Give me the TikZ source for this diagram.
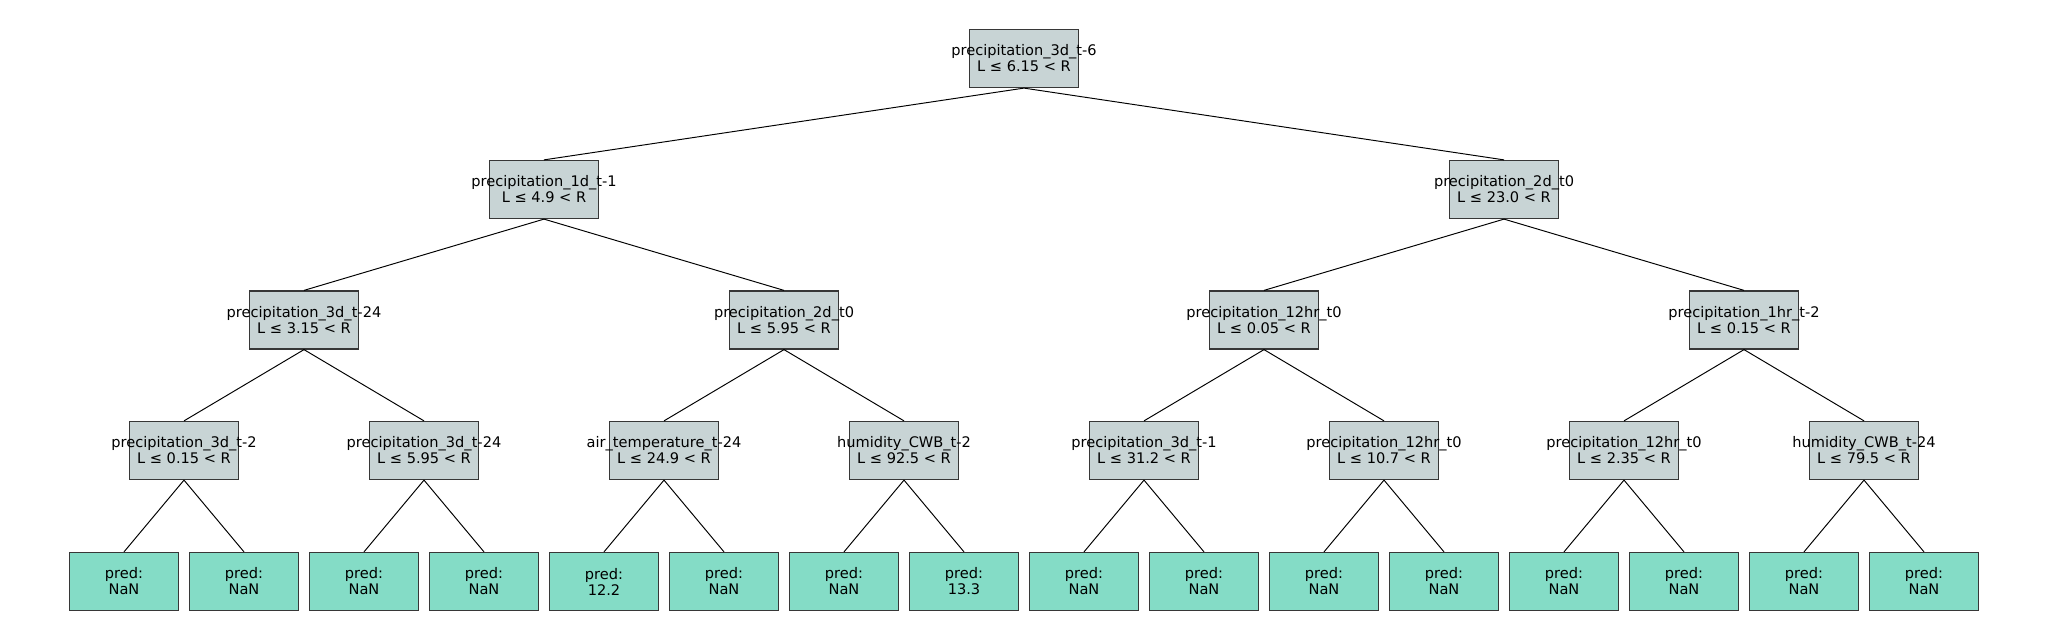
\documentclass[tikz,border=0pt]{standalone}
\usepackage{fontspec}
\setmainfont{DejaVu Sans}
\definecolor{splitgray}{RGB}{200,212,213}
\definecolor{leafgreen}{RGB}{132,220,198}
\definecolor{boxline}{RGB}{55,55,55}
\newcommand{\splittext}[2]{\makebox[0pt]{#1}\\\makebox[0pt]{#2}}
\begin{document}
\begin{tikzpicture}[
        split/.style={rectangle, draw=boxline, line width=0.7pt, fill=splitgray, minimum width=2.19cm, minimum height=1.16cm, inner sep=0pt, font=\fontsize{8.3}{9.1}\selectfont, align=center},
        leaf/.style={split, fill=leafgreen},
        edge/.style={line width=0.55pt, black}
    ]
    \useasboundingbox (0,0) rectangle (40.96,-12.8);
    % root
    \node[split] (r) at (20.48,-1.17) {\splittext{precipitation\_3d\_t-6}{L ≤ 6.15 < R}};
    % level 2
    \node[split] (l) at (10.88,-3.79) {\splittext{precipitation\_1d\_t-1}{L ≤ 4.9 < R}};
    \node[split] (rr) at (30.08,-3.79) {\splittext{precipitation\_2d\_t0}{L ≤ 23.0 < R}};
    % level 3
    \node[split] (ll) at (6.08,-6.40) {\splittext{precipitation\_3d\_t-24}{L ≤ 3.15 < R}};
    \node[split] (lr) at (15.68,-6.40) {\splittext{precipitation\_2d\_t0}{L ≤ 5.95 < R}};
    \node[split] (rl) at (25.28,-6.40) {\splittext{precipitation\_12hr\_t0}{L ≤ 0.05 < R}};
    \node[split] (rrr) at (34.88,-6.40) {\splittext{precipitation\_1hr\_t-2}{L ≤ 0.15 < R}};
    % level 4
    \node[split] (s1) at (3.68,-9.01) {\splittext{precipitation\_3d\_t-2}{L ≤ 0.15 < R}};
    \node[split] (s2) at (8.48,-9.01) {\splittext{precipitation\_3d\_t-24}{L ≤ 5.95 < R}};
    \node[split] (s3) at (13.28,-9.01) {\splittext{air\_temperature\_t-24}{L ≤ 24.9 < R}};
    \node[split] (s4) at (18.08,-9.01) {\splittext{humidity\_CWB\_t-2}{L ≤ 92.5 < R}};
    \node[split] (s5) at (22.88,-9.01) {\splittext{precipitation\_3d\_t-1}{L ≤ 31.2 < R}};
    \node[split] (s6) at (27.68,-9.01) {\splittext{precipitation\_12hr\_t0}{L ≤ 10.7 < R}};
    \node[split] (s7) at (32.48,-9.01) {\splittext{precipitation\_12hr\_t0}{L ≤ 2.35 < R}};
    \node[split] (s8) at (37.28,-9.01) {\splittext{humidity\_CWB\_t-24}{L ≤ 79.5 < R}};
    % leaves
    \node[leaf] (p1) at (2.48,-11.63) {pred:\\NaN};
    \node[leaf] (p2) at (4.88,-11.63) {pred:\\NaN};
    \node[leaf] (p3) at (7.28,-11.63) {pred:\\NaN};
    \node[leaf] (p4) at (9.68,-11.63) {pred:\\NaN};
    \node[leaf] (p5) at (12.08,-11.63) {pred:\\12.2};
    \node[leaf] (p6) at (14.48,-11.63) {pred:\\NaN};
    \node[leaf] (p7) at (16.88,-11.63) {pred:\\NaN};
    \node[leaf] (p8) at (19.28,-11.63) {pred:\\13.3};
    \node[leaf] (p9) at (21.68,-11.63) {pred:\\NaN};
    \node[leaf] (p10) at (24.08,-11.63) {pred:\\NaN};
    \node[leaf] (p11) at (26.48,-11.63) {pred:\\NaN};
    \node[leaf] (p12) at (28.88,-11.63) {pred:\\NaN};
    \node[leaf] (p13) at (31.28,-11.63) {pred:\\NaN};
    \node[leaf] (p14) at (33.68,-11.63) {pred:\\NaN};
    \node[leaf] (p15) at (36.08,-11.63) {pred:\\NaN};
    \node[leaf] (p16) at (38.48,-11.63) {pred:\\NaN};
    % edges
    \draw[edge] (r.south) -- (l.north);
    \draw[edge] (r.south) -- (rr.north);
    \draw[edge] (l.south) -- (ll.north);
    \draw[edge] (l.south) -- (lr.north);
    \draw[edge] (rr.south) -- (rl.north);
    \draw[edge] (rr.south) -- (rrr.north);
    \draw[edge] (ll.south) -- (s1.north);
    \draw[edge] (ll.south) -- (s2.north);
    \draw[edge] (lr.south) -- (s3.north);
    \draw[edge] (lr.south) -- (s4.north);
    \draw[edge] (rl.south) -- (s5.north);
    \draw[edge] (rl.south) -- (s6.north);
    \draw[edge] (rrr.south) -- (s7.north);
    \draw[edge] (rrr.south) -- (s8.north);
    \draw[edge] (s1.south) -- (p1.north);
    \draw[edge] (s1.south) -- (p2.north);
    \draw[edge] (s2.south) -- (p3.north);
    \draw[edge] (s2.south) -- (p4.north);
    \draw[edge] (s3.south) -- (p5.north);
    \draw[edge] (s3.south) -- (p6.north);
    \draw[edge] (s4.south) -- (p7.north);
    \draw[edge] (s4.south) -- (p8.north);
    \draw[edge] (s5.south) -- (p9.north);
    \draw[edge] (s5.south) -- (p10.north);
    \draw[edge] (s6.south) -- (p11.north);
    \draw[edge] (s6.south) -- (p12.north);
    \draw[edge] (s7.south) -- (p13.north);
    \draw[edge] (s7.south) -- (p14.north);
    \draw[edge] (s8.south) -- (p15.north);
    \draw[edge] (s8.south) -- (p16.north);
\end{tikzpicture}
\end{document}
